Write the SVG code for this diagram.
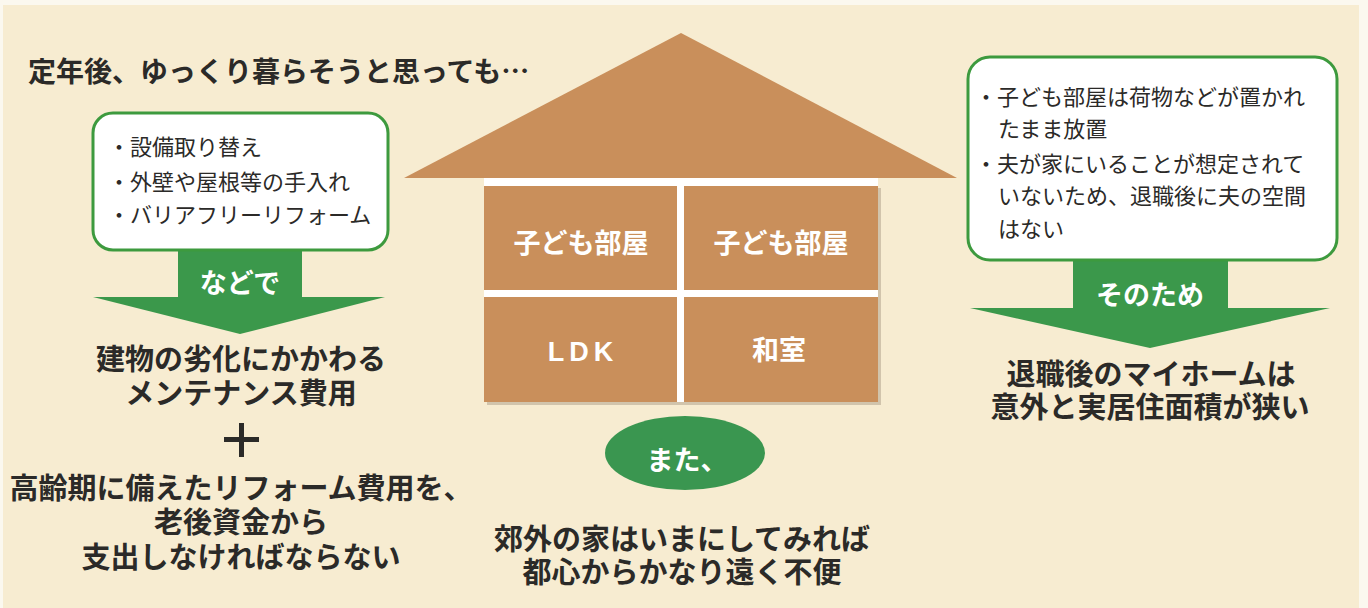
<svg xmlns="http://www.w3.org/2000/svg" width="1368" height="608" viewBox="0 0 1368 608">
  <defs>
    <style>
      .jp { font-family: "Noto Sans CJK JP", "Noto Sans", sans-serif; font-weight: 700; }
      .dark { fill: #2b2a28; }
      .head { font-size: 29px; text-anchor: middle; }
      .note { font-size: 22px; font-weight: 400; fill: #2b2a28; }
      .room { fill: #c98f5b; }
      .arrow { fill: #3b984b; }
      .panel { fill: #ffffff; stroke: #3d9a3e; stroke-width: 3; }
      .label { font-size: 27px; text-anchor: middle; fill: #ffffff; }
    </style>
  </defs>

  <!-- paper -->
  <rect x="0" y="0" width="1368" height="608" fill="#fbf8ef"/>
  <rect x="3" y="5" width="1356" height="603" fill="#f7ecd1"/>

  <!-- heading -->
  <text id="title" class="jp dark" x="28" y="82" font-size="28">定年後、ゆっくり暮らそうと思っても…</text>

  <g id="connectors">
    <!-- left arrow: などで -->
    <g id="arrow-left">
      <rect class="arrow" x="178" y="248" width="124" height="50"/>
      <polygon class="arrow" points="93,297 385,297 240,334"/>
      <text class="jp label" x="240" y="293" font-size="26">などで</text>
    </g>
    <!-- right arrow: そのため -->
    <g id="arrow-right">
      <rect class="arrow" x="1073" y="258" width="155" height="51"/>
      <polygon class="arrow" points="970,308 1330,308 1150,348"/>
      <text class="jp label" x="1150" y="305">そのため</text>
    </g>
  </g>

  <!-- maintenance list -->
  <g id="box-left">
    <rect class="panel" x="93" y="113" width="295" height="137" rx="20"/>
    <text class="jp note" x="108" y="155">・設備取り替え</text>
    <text class="jp note" x="108" y="190">・外壁や屋根等の手入れ</text>
    <text class="jp note" x="108" y="223">・バリアフリーリフォーム</text>
  </g>

  <!-- cost summary -->
  <g id="cost-text" class="jp dark">
    <text class="head" x="241" y="370">建物の劣化にかかわる</text>
    <text class="head" x="241" y="404">メンテナンス費用</text>
    <rect x="224" y="437" width="35" height="5"/>
    <rect x="239" y="423" width="5" height="34"/>
    <text class="head" x="241" y="499" font-size="27.5">高齢期に備えたリフォーム費用を、</text>
    <text class="head" x="241" y="533">老後資金から</text>
    <text class="head" x="241" y="568">支出しなければならない</text>
  </g>

  <!-- house -->
  <g id="house">
    <rect x="487" y="188" width="394" height="217" fill="#8a7a66" opacity="0.35"/>
    <polygon points="404,178 681,33 957,178" fill="#c98f5b"/>
    <rect x="484" y="178" width="394" height="224" fill="#ffffff"/>
    <g id="room-kids-1">
      <rect class="room" x="484" y="186" width="193" height="104"/>
      <text class="jp label" x="581" y="253" font-size="28">子ども部屋</text>
    </g>
    <g id="room-kids-2">
      <rect class="room" x="684" y="186" width="194" height="104"/>
      <text class="jp label" x="781" y="253" font-size="28">子ども部屋</text>
    </g>
    <g id="room-ldk">
      <rect class="room" x="484" y="297" width="193" height="105"/>
      <text class="label" x="583" y="361" font-family="Liberation Sans, Arial, sans-serif" font-weight="700" font-size="30" letter-spacing="5">LDK</text>
    </g>
    <g id="room-washitsu">
      <rect class="room" x="684" y="297" width="194" height="105"/>
      <text class="jp label" x="779" y="360" font-size="28">和室</text>
    </g>
  </g>

  <!-- suburb note -->
  <g id="also">
    <ellipse cx="685" cy="453" rx="80" ry="37" fill="#3a9650"/>
    <text class="jp label" x="687" y="470" font-size="27">また、</text>
  </g>
  <g id="suburb-text" class="jp dark">
    <text class="head" x="682" y="550">郊外の家はいまにしてみれば</text>
    <text class="head" x="682" y="583">都心からかなり遠く不便</text>
  </g>

  <!-- space list -->
  <g id="box-right">
    <rect class="panel" x="968" y="57" width="369" height="203" rx="22"/>
    <text class="jp note" x="975" y="105" font-size="23">・子ども部屋は荷物などが置かれ</text>
    <text class="jp note" x="998" y="137" font-size="23">たまま放置</text>
    <text class="jp note" x="975" y="172" font-size="23">・夫が家にいることが想定されて</text>
    <text class="jp note" x="998" y="204" font-size="23">いないため、退職後に夫の空間</text>
    <text class="jp note" x="998" y="237" font-size="23">はない</text>
  </g>

  <g id="result-text" class="jp dark">
    <text class="head" x="1151" y="385">退職後のマイホームは</text>
    <text class="head" x="1150" y="418">意外と実居住面積が狭い</text>
  </g>
</svg>
